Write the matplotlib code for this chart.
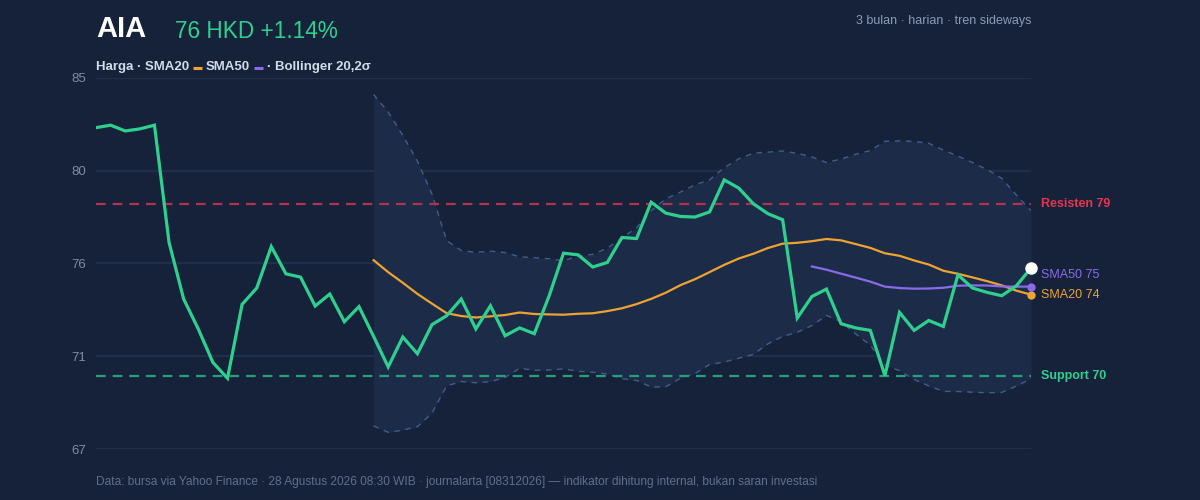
import numpy as np
import pandas as pd
import matplotlib
matplotlib.use("Agg")
import matplotlib.pyplot as plt
from matplotlib.lines import Line2D

# ---------------- data ----------------
ticker = "AIA"
currency = "HKD"
change_pct = 1.14
prices = [82.48, 82.60, 82.32, 82.42, 82.60, 76.92, 74.18, 72.73, 71.11, 70.34,
          73.92, 74.71, 76.72, 75.40, 75.24, 73.84, 74.42, 73.08, 73.81, 72.37,
          70.89, 72.34, 71.53, 72.94, 73.37, 74.18, 72.73, 73.85, 72.40, 72.78,
          72.50, 74.30, 76.40, 76.32, 75.73, 75.95, 77.16, 77.11, 78.87, 78.34,
          78.18, 78.15, 78.40, 79.95, 79.55, 78.79, 78.31, 78.02, 73.26, 74.30,
          74.66, 72.98, 72.78, 72.66, 70.47, 73.53, 72.66, 73.14, 72.85, 75.35,
          74.71, 74.50, 74.34, 74.82, 75.68]
resistance = 78.76
support = 70.43
y_min, y_max = 66.9, 84.9
subtitle = "3 bulan · harian · tren sideways"
legend_parts = ["Harga · SMA20", "SMA50", "· Bollinger 20,2σ"]
footer = ("Data: bursa via Yahoo Finance · 28 Agustus 2026 08:30 WIB · journalarta "
          "[08312026] — indikator dihitung internal, bukan saran investasi")

s = pd.Series(prices)
sma20 = s.rolling(20).mean()
sma50 = s.rolling(50).mean()
std20 = s.rolling(20).std(ddof=0)
bb_up = sma20 + 2 * std20
bb_lo = sma20 - 2 * std20
x = np.arange(len(prices))

# ---------------- style ----------------
BG = "#15223a"
FILL = "#1c2c48"
GRID = "#1f2e4a"
GREEN = "#2fd08f"
ORANGE = "#eea330"
PURPLE = "#8a6ae8"
RED = "#e8344f"
RED_LINE = "#b3304f"
GREEN_LINE = "#2a9e76"
BAND = "#435c8a"
TICK = "#7d8ba6"

plt.rcParams['font.family'] = ['Liberation Sans', 'DejaVu Sans']
plt.rcParams['lines.scale_dashes'] = False

W, H = 1200, 500
fig = plt.figure(figsize=(12, 5), dpi=100, facecolor=BG)
L, R = 96 / W, 1031 / W
B, T = (H - 449.3) / H, (H - 77.7) / H
ax = fig.add_axes([L, B, R - L, T - B])
ax.set_facecolor(BG)
ax.set_xlim(0, len(prices) - 1)
ax.set_ylim(y_min, y_max)
for sp in ax.spines.values():
    sp.set_visible(False)
ax.set_xticks([])
ticks = np.linspace(y_min, y_max, 5)
ax.set_yticks(ticks)
ax.set_yticklabels([f"{t:.0f}" for t in ticks])
ax.tick_params(axis='y', length=0, pad=7, labelcolor=TICK, labelsize=9.5)
for t in ticks:
    ax.axhline(t, color=GRID, lw=1.6, zorder=0)

# Bollinger band
ax.fill_between(x, bb_lo, bb_up, where=~bb_up.isna(), color=FILL, lw=0, zorder=1)
ax.plot(x, bb_up, color=BAND, lw=1.0, dashes=(4, 4), zorder=2)
ax.plot(x, bb_lo, color=BAND, lw=1.0, dashes=(4, 4), zorder=2)

# support / resistance
ax.axhline(resistance, color=RED_LINE, lw=1.6, dashes=(7, 5), zorder=3)
ax.axhline(support, color=GREEN_LINE, lw=1.6, dashes=(7, 5), zorder=3)

# SMAs
ax.plot(x, sma20, color=ORANGE, lw=1.6, zorder=4)
ax.plot(x, sma50, color=PURPLE, lw=1.6, zorder=4)
ax.plot(x[-1], sma20.iloc[-1], 'o', color=ORANGE, ms=6, mew=0, zorder=6, clip_on=False)
ax.plot(x[-1], sma50.iloc[-1], 'o', color=PURPLE, ms=6, mew=0, zorder=6, clip_on=False)

# price
ax.plot(x, prices, color=GREEN, lw=2.3, zorder=5, solid_joinstyle='miter')
ax.plot(x[-1], prices[-1], 'o', color='white', ms=9, mew=0, zorder=7, clip_on=False)

# right labels
lx = x[-1]
ax.annotate(f"Resisten {resistance:.0f}", (lx, resistance), xytext=(7, 0),
            textcoords='offset points', va='center', ha='left', color=RED,
            fontsize=9, fontweight='bold', annotation_clip=False)
ax.annotate(f"Support {support:.0f}", (lx, support), xytext=(7, 0),
            textcoords='offset points', va='center', ha='left', color=GREEN,
            fontsize=9, fontweight='bold', annotation_clip=False)
ax.annotate(f"SMA50 {sma50.iloc[-1]:.0f}", (lx, sma50.iloc[-1]), xytext=(7, 8.5),
            textcoords='offset points', va='center', ha='left', color=PURPLE,
            fontsize=9, annotation_clip=False)
ax.annotate(f"SMA20 {sma20.iloc[-1]:.0f}", (lx, sma20.iloc[-1]), xytext=(7, 0),
            textcoords='offset points', va='center', ha='left', color=ORANGE,
            fontsize=9, annotation_clip=False)

# title
fig.text(96 / W, 1 - 29 / H, ticker, color='white', fontsize=21,
         fontweight='bold', va='center', ha='left')
fig.text(175 / W, 1 - 31 / H, f"{prices[-1]:.0f} {currency} +{change_pct:.2f}%",
         color=GREEN, fontsize=16.3, va='center', ha='left')
fig.text(R, 1 - 21 / H, subtitle, color="#8d9cb6", fontsize=9,
         va='center', ha='right')

# legend line (manual layout)
renderer = fig.canvas.get_renderer()
leg_y = 1 - 67 / H
cur = 96.0
dash_cols = [ORANGE, PURPLE, None]
for part, dc in zip(legend_parts, dash_cols):
    t = fig.text(cur / W, leg_y, part, color="#d3dbe8", fontsize=9.5,
                 fontweight='bold', va='center', ha='left')
    bb = t.get_window_extent(renderer)
    cur = bb.x1 + 4
    if dc is not None:
        fig.add_artist(Line2D([cur / W, (cur + 9) / W], [1 - 68 / H, 1 - 68 / H],
                              color=dc, lw=2.2, solid_capstyle='butt',
                              transform=fig.transFigure))
        cur += 9 + 4

# footer
fig.text(96 / W, 1 - 482 / H, footer, color="#5f6f8d", fontsize=8.6,
         va='center', ha='left')

fig.savefig("out.png", dpi=100, facecolor=BG)
